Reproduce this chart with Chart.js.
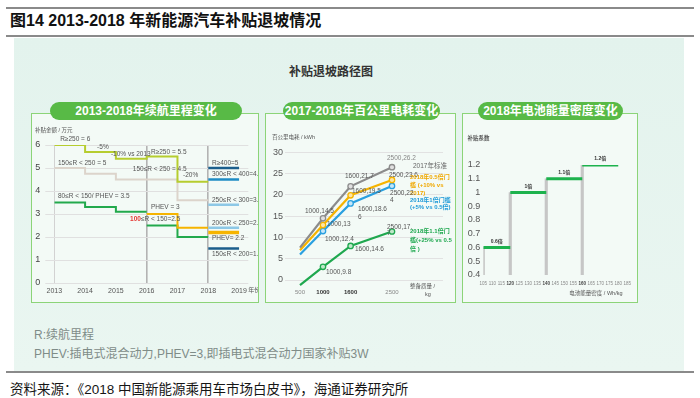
<!DOCTYPE html>
<html>
<head>
<meta charset="utf-8">
<title>2013-2018 年新能源汽车补贴退坡情况</title>
<script src="https://cdn.jsdelivr.net/npm/chart.js@4.4.1/dist/chart.umd.min.js"></script>
<style>
  body { margin:0; width:700px; height:398px; position:relative; overflow:hidden; background:#fff;
         font-family:"Liberation Sans","Noto Sans CJK SC",sans-serif; }
  .raya { position:absolute; left:6px; width:688px; height:2px; background:#8a8a8a; }
  #titulo { position:absolute; left:10px; top:12px; font-size:16px; line-height:18px; font-weight:bold; color:#111; white-space:nowrap; }
  #panel { position:absolute; left:14px; top:38px; width:670px; height:333px; background:linear-gradient(180deg,#e3f3ed,#eaf6f1); }
  #subtitulo { position:absolute; left:0; width:662px; top:62px; text-align:center; font-size:12px; font-weight:bold; color:#333; }
  .caja { position:absolute; top:113px; height:190px; border:1.5px solid #8cd478; background:#f3faf6; box-sizing:border-box; }
  .pildora { position:absolute; top:102px; height:18px; line-height:18px; border-radius:9px; background:#58ba46; color:#fff;
             font-weight:bold; font-size:12px; text-align:center; white-space:nowrap; }
  canvas { position:absolute; }
  .nota { position:absolute; left:34px; font-size:12px; color:#7f8c88; white-space:nowrap; }
  #fuente { position:absolute; left:10px; top:378px; font-size:13.5px; color:#151515; white-space:nowrap; }
</style>
</head>
<body>
<div class="raya" style="top:7px"></div>
<div id="titulo">图14 2013-2018 年新能源汽车补贴退坡情况</div>
<div class="raya" style="top:35px"></div>
<div id="panel"></div>
<div id="subtitulo">补贴退坡路径图</div>

<div class="caja" style="left:31px;width:228px"></div>
<div class="caja" style="left:265px;width:191px"></div>
<div class="caja" style="left:462px;width:176px"></div>
<div class="pildora" style="left:50px;width:192px">2013-2018年续航里程变化</div>
<div class="pildora" style="left:283px;width:157px">2017-2018年百公里电耗变化</div>
<div class="pildora" style="left:478px;width:145px">2018年电池能量密度变化</div>

<canvas id="c1" width="226" height="180" style="left:32px;top:120px"></canvas>
<canvas id="c2" width="189" height="180" style="left:266px;top:120px"></canvas>
<canvas id="c3" width="174" height="180" style="left:463px;top:120px"></canvas>

<div class="nota" style="top:325px">R:续航里程</div>
<div class="nota" style="top:344px">PHEV:插电式混合动力,PHEV=3,即插电式混合动力国家补贴3W</div>
<div class="raya" style="top:371px"></div>
<div id="fuente">资料来源：《2018 中国新能源乘用车市场白皮书》，海通证券研究所</div>

<script>
// ---- 续航里程 (万元) ----
const anios = [2013, 2014, 2015, 2016, 2017, 2018, 2019];
const anios1318 = [2013, 2014, 2015, 2016, 2017, 2018];
const r250 = [6, 5.7, 5.4, 5.5, 4.4, 4.4];
const r150a250 = [5, 4.75, 4.5, 4.5, 3.6, 3.6];
const anios1316 = [2013, 2014, 2015, 2016];
const r80a150 = [3.5, 3.3, 3.1, 3.1];
const anios1618 = [2016, 2017, 2018];
const r100a150 = [2.5, 2.0, 2.0];
const phev = [3, 2.4, 2.4];
const tramos2018 = ['R≥400=5', '300≤R < 400=4.5', '250≤R < 300=3.4', '200≤R < 250=2.4', 'PHEV= 2.2', '150≤R < 200=1.5'];
const valores2018 = [5, 4.5, 3.4, 2.4, 2.2, 1.5];
const colores2018 = ['#1b5e8c', '#1f8cc4', '#8dc8e6', '#8dc8e6', '#f6b400', '#1b5e8c'];

// ---- 百公里电耗 (kWh) ----
const masa = [500, 1000, 1600, 2500];
const consumo2017 = [7.6, 14.5, 22.0, 26.5];
const umbral05 = [7.0, 12.9, 19.9, 23.5];
const umbral1 = [6.0, 11.5, 18.0, 22.1];
const umbral11 = [-1.2, 3.1, 8.0, 11.4];
const consumoTicks = [0, 5, 10, 15, 20, 25, 30];

// ---- 电池能量密度 ----
const densidadTicks = [105, 110, 115, 120, 125, 130, 135, 140, 145, 150, 155, 160, 165, 170, 175, 180, 185];
const densidadDesde = [105, 120, 140, 160];
const densidadHasta = [120, 140, 160, 180];
const coeficiente = [0.6, 1.0, 1.1, 1.2];
const coefEtiquetas = ['0.6倍', '1倍', '1.1倍', '1.2倍'];
const coefTicks = [0.4, 0.5, 0.6, 0.7, 0.8, 0.9, 1.0, 1.1, 1.2];

const fam = '"Liberation Sans","Noto Sans CJK SC",sans-serif';
Chart.defaults.font.family = fam;
Chart.defaults.animation = false;
Chart.defaults.plugins.legend.display = false;
Chart.defaults.plugins.tooltip.enabled = false;

const valorTick = c => (c && c.tick ? c.tick.value : null);

// textos sobre cada grafico, en coordenadas de datos
const notasPorGrafico = {
  c1: [
    { x: 2012.37, y: 6.65, t: '补贴金额 / 万元', s: 5.5 },
    { x: 2013.19, y: 6.26, t: 'R≥250 = 6' },
    { x: 2014.39, y: 5.91, t: '-5%' },
    { x: 2014.84, y: 5.61, t: '-10% vs 2013' },
    { x: 2013.12, y: 5.22, t: '150≤R < 250 = 5' },
    { x: 2016.14, y: 5.70, t: 'R≥250 = 5.5' },
    { x: 2015.55, y: 4.96, t: '150≤R < 250 = 4.5' },
    { x: 2017.18, y: 4.70, t: '-20%' },
    { x: 2013.12, y: 3.78, t: '80≤R < 150/ PHEV = 3.5' },
    { x: 2016.14, y: 3.30, t: 'PHEV = 3' },
    { x: 2015.46, y: 2.78, partes: [['100', '#e53935', true], ['≤R < 150=2.5']] },
    ...tramos2018.map((t, i) => ({ x: 2018.12, y: valores2018[i], dy: i >= 4 ? 6 : -5, t })),
    { x: 2019.3, y: -0.3, t: '年份', s: 6 }
  ],
  c2: [
    { x: -109, y: 33.4, t: '百公里电耗 / kWh', s: 5.5 },
    { x: 2391, y: 28.7, t: '2500,26.2', c: '#888' },
    { x: 2957, y: 26.8, t: '2017年标准', c: '#666' },
    { x: 1478, y: 24.4, t: '1600,21.7' },
    { x: 2435, y: 24.7, t: '2500,23.6' },
    { x: 2891, y: 24.2, t: '2018年0.5倍门', c: '#f0a800', b: true, s: 6 },
    { x: 2891, y: 22.3, t: '槛 (+10% vs', c: '#f0a800', b: true, s: 6 },
    { x: 2891, y: 20.4, t: '2017)', c: '#f0a800', b: true, s: 6 },
    { x: 1630, y: 20.9, t: '1600,19.5' },
    { x: 2457, y: 20.4, t: '2500,22.' },
    { x: 2457, y: 18.8, t: '4' },
    { x: 2891, y: 18.8, t: '2018年1倍门槛', c: '#1e9ad8', b: true, s: 6 },
    { x: 2891, y: 17.1, t: '(+5% vs 0.5倍)', c: '#1e9ad8', b: true, s: 6 },
    { x: 609, y: 16.2, t: '1000,14.5' },
    { x: 1761, y: 16.7, t: '1600,18.6' },
    { x: 1761, y: 14.8, t: '6' },
    { x: 1087, y: 13.2, t: '1000,13' },
    { x: 1043, y: 9.6, t: '1000,12.4' },
    { x: 2391, y: 12.5, t: '2500,17.' },
    { x: 2391, y: 11.0, t: '7' },
    { x: 2891, y: 11.5, t: '2018年1.1倍门', c: '#1fa84f', b: true, s: 6 },
    { x: 2891, y: 9.4, t: '槛(+25% vs 0.5', c: '#1fa84f', b: true, s: 6 },
    { x: 2891, y: 7.3, t: '倍 )', c: '#1fa84f', b: true, s: 6 },
    { x: 1696, y: 7.3, t: '1600,14.6' },
    { x: 1065, y: 1.9, t: '1000,9.8' },
    { x: 2891, y: -1.6, t: '整备质量 /', s: 5.5 },
    { x: 3217, y: -3.5, t: 'kg', s: 5.5 }
  ],
  c3: [
    { x: 96.2, y: 1.396, t: '补贴系数', s: 5.5, b: true },
    ...coefEtiquetas.map((t, i) => ({ x: (densidadDesde[i] + densidadHasta[i]) / 2, y: coeficiente[i], dy: -6, t, s: 5, b: true, c: '#333', centro: true })),
    { x: 152.8, y: 0.269, t: '电池能量密度 / Wh/kg', s: 5.5 }
  ]
};

Chart.register({
  id: 'notas',
  afterDatasetsDraw(chart) {
    const items = notasPorGrafico[chart.canvas.id] || [];
    const { ctx } = chart;
    const sx = chart.scales.x, sy = chart.scales.y;
    ctx.save();
    ctx.textBaseline = 'middle';
    ctx.textAlign = 'left';
    items.forEach(n => {
      const tam = n.s || 6.5;
      const partes = n.partes || [[n.t, n.c, n.b]];
      let px = sx.getPixelForValue(n.x) + (n.dx || 0);
      const py = sy.getPixelForValue(n.y) + (n.dy || 0);
      if (n.centro) {
        let w = 0;
        partes.forEach(p => { ctx.font = (p[2] ? 'bold ' : '') + tam + 'px ' + fam; w += ctx.measureText(p[0]).width; });
        px -= w / 2;
      }
      partes.forEach(p => {
        ctx.font = (p[2] ? 'bold ' : '') + tam + 'px ' + fam;
        ctx.fillStyle = p[1] || '#555';
        ctx.fillText(p[0], px, py);
        px += ctx.measureText(p[0]).width;
      });
    });
    ctx.restore();
  }
});

function escalon(xs, ys, color, ancho) {
  return {
    data: xs.map((x, i) => ({ x, y: ys[i] })),
    borderColor: color, borderWidth: ancho || 2, stepped: 'before',
    pointRadius: 0, fill: false
  };
}

new Chart(document.getElementById('c1'), {
  type: 'line',
  data: {
    datasets: [
      ...valores2018.map((v, i) => escalon([2018, 2019], [v, v], colores2018[i], i === 4 ? 3.5 : 2.5)),
      escalon(anios1618, phev, '#f6b400'),
      escalon(anios1618, r100a150, '#22a94c'),
      escalon(anios1316, r80a150, '#22a94c'),
      escalon(anios1318, r250, '#b6cd2f'),
      escalon(anios1318, r150a250, '#dcd4cb')
    ]
  },
  options: {
    responsive: false,
    layout: { padding: { top: 25, right: 9.7, left: 0, bottom: 0 } },
    scales: {
      x: {
        type: 'linear', min: 2013, max: 2019.3,
        afterBuildTicks: s => { s.ticks = anios.map(v => ({ value: v })); },
        afterFit: s => { s.height = 17; },
        border: { display: false },
        grid: {
          drawTicks: false,
          color: c => [2016, 2018].includes(valorTick(c)) ? '#b3b3b3' : (valorTick(c) === 2013 ? '#d2d2d2' : 'rgba(0,0,0,0)'),
          lineWidth: c => [2016, 2018].includes(valorTick(c)) ? 1.6 : 1
        },
        ticks: { font: { size: 7 }, color: '#555', padding: 3.5, autoSkip: false, maxRotation: 0, callback: v => String(v) }
      },
      y: {
        min: 0, max: 6,
        afterFit: s => { s.width = 22.3; },
        border: { display: false },
        grid: { color: '#e0e0e0', tickLength: 9 },
        ticks: { stepSize: 1, autoSkip: false, font: { size: 9 }, color: '#444', padding: 5 }
      }
    }
  }
});

function serie(ys, color, relleno) {
  return {
    data: masa.map((x, i) => ({ x, y: ys[i] })),
    borderColor: color, borderWidth: 2.2, fill: false,
    pointRadius: [0, 2.7, 2.7, 2.7], pointBorderWidth: 1.3,
    pointBorderColor: color, pointBackgroundColor: relleno
  };
}

new Chart(document.getElementById('c2'), {
  type: 'line',
  data: {
    datasets: [
      serie(umbral11, '#1fa84f', '#bfe8c9'),
      serie(consumo2017, '#8c8c8c', '#e0e0e0'),
      serie(umbral05, '#f6b400', '#fde6a6'),
      serie(umbral1, '#2aa0e0', '#c4e6f8')
    ]
  },
  options: {
    responsive: false,
    layout: { padding: { top: 32.3, right: 12, left: 0, bottom: 0 } },
    scales: {
      x: {
        type: 'linear', min: 174, max: 3609,
        afterBuildTicks: s => { s.ticks = masa.map(v => ({ value: v })); },
        afterFit: s => { s.height = 13.6; },
        border: { display: false },
        grid: { display: false, drawTicks: false },
        ticks: {
          autoSkip: false, maxRotation: 0, padding: 2, callback: v => String(v),
          color: c => [1000, 1600].includes(valorTick(c)) ? '#333' : '#888',
          font: c => ({ size: 6, weight: [1000, 1600].includes(valorTick(c)) ? 'bold' : 'normal' })
        }
      },
      y: {
        min: -1.5, max: 30,
        afterBuildTicks: s => { s.ticks = consumoTicks.map(v => ({ value: v })); },
        afterFit: s => { s.width = 19; },
        border: { display: false },
        grid: { color: '#e2e2e2', drawTicks: false },
        ticks: { autoSkip: false, font: { size: 9 }, color: '#555', padding: 2 }
      }
    }
  }
});

const segmentos = [];
densidadDesde.forEach((d, i) => {
  if (i > 0) segmentos.push({ x: d, y: null });
  segmentos.push({ x: d, y: coeficiente[i] }, { x: densidadHasta[i], y: coeficiente[i] });
});

new Chart(document.getElementById('c3'), {
  type: 'bar',
  data: {
    datasets: [
      { type: 'line', data: segmentos, borderColor: '#1db24d', borderWidth: 3, pointRadius: 0, spanGaps: false, fill: false },
      { type: 'bar', data: densidadDesde.map((d, i) => ({ x: d, y: [0.4, coeficiente[i]] })), backgroundColor: '#c6c6c6', barThickness: 2.5 }
    ]
  },
  options: {
    responsive: false,
    layout: { padding: { top: 45, right: 5.3, left: 0, bottom: 0 } },
    scales: {
      x: {
        type: 'linear', min: 105, max: 185, offset: false,
        afterBuildTicks: s => { s.ticks = densidadTicks.map(v => ({ value: v })); },
        afterFit: s => { s.height = 25; },
        border: { display: false },
        grid: { display: false, drawTicks: false },
        ticks: {
          autoSkip: false, maxRotation: 0, padding: 6, callback: v => String(v),
          color: c => [120, 140, 160].includes(valorTick(c)) ? '#444' : '#888',
          font: c => ({ size: 4.5, weight: [120, 140, 160].includes(valorTick(c)) ? 'bold' : 'normal' })
        }
      },
      y: {
        min: 0.4, max: 1.2,
        afterBuildTicks: s => { s.ticks = coefTicks.map(v => ({ value: v })); },
        afterFit: s => { s.width = 20.3; },
        border: { display: false },
        grid: { display: false, drawTicks: false },
        ticks: { autoSkip: false, font: { size: 9 }, color: '#555', padding: 3, callback: v => String(+v.toFixed(1)) }
      }
    }
  }
});
</script>
</body>
</html>
